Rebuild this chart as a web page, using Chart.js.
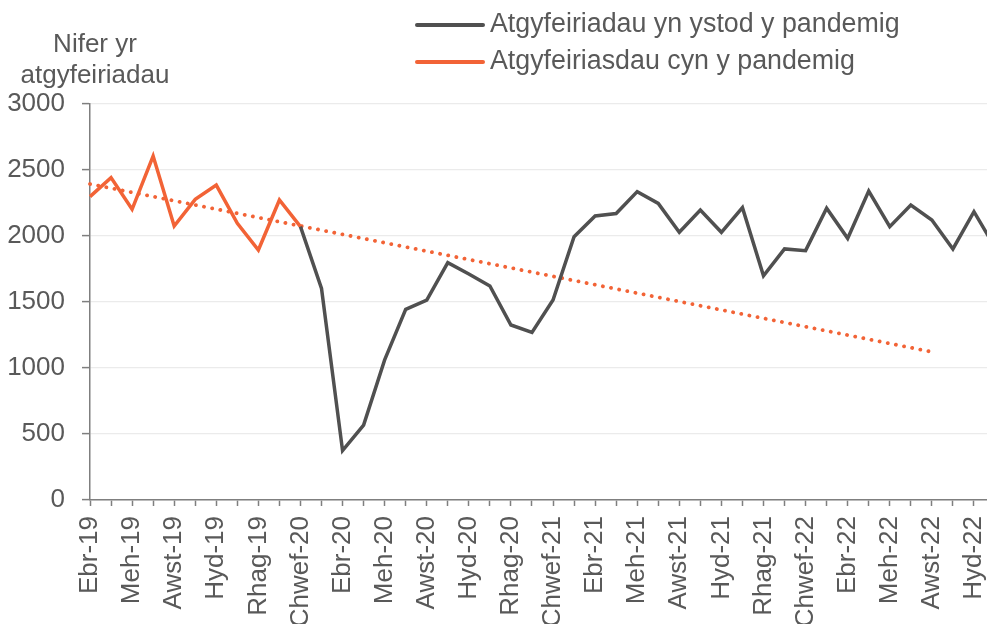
<!DOCTYPE html>
<html>
<head>
<meta charset="utf-8">
<script src="https://cdn.jsdelivr.net/npm/chart.js@4"></script>
<style>
  html, body { margin: 0; padding: 0; background: #fff; overflow: hidden; }
  #wrap { position: relative; width: 1010px; height: 624px; }
  .txt { font-family: "Liberation Sans", Arial, sans-serif; color: #595959; font-size: 26px; }
  #ytitle { position: absolute; left: 5px; width: 180px; top: 28px; text-align: center; line-height: 31px; }
  .leg { position: absolute; left: 415px; height: 30px; line-height: 30px; white-space: nowrap; font-size: 26.8px; }
  .leg span.sw { display: inline-block; width: 70px; height: 4px; vertical-align: middle; margin-right: 5px; border-radius: 2px; }
</style>
</head>
<body>
<div id="wrap">
  <canvas id="myChart" width="1010" height="624"></canvas>
  <div id="ytitle" class="txt">Nifer yr<br>atgyfeiriadau</div>
  <div class="leg txt" style="top:8px"><span class="sw" style="background:#505050"></span>Atgyfeiriadau yn ystod y pandemig</div>
  <div class="leg txt" style="top:45px"><span class="sw" style="background:#F26336"></span>Atgyfeiriasdau cyn y pandemig</div>
</div>
<script>
    // misoedd Ebr-19 .. Tach-22
    const months = [
      'Ebr-19','Mai-19','Meh-19','Gorff-19','Awst-19','Medi-19','Hyd-19','Tach-19','Rhag-19','Ion-20','Chwef-20','Maw-20',
      'Ebr-20','Mai-20','Meh-20','Gorff-20','Awst-20','Medi-20','Hyd-20','Tach-20','Rhag-20','Ion-21','Chwef-21','Maw-21',
      'Ebr-21','Mai-21','Meh-21','Gorff-21','Awst-21','Medi-21','Hyd-21','Tach-21','Rhag-21','Ion-22','Chwef-22','Maw-22',
      'Ebr-22','Mai-22','Meh-22','Gorff-22','Awst-22','Medi-22','Hyd-22','Tach-22'
    ];

    // yn ystod y pandemig (o Chwef-20)
    const during = [
      null, null, null, null, null, null, null, null, null, null,
      2071, 1603, 374, 568, 1061, 1444, 1515, 1798, 1712, 1621,
      1326, 1270, 1515, 1995, 2152, 2170, 2336, 2247, 2028, 2197,
      2028, 2215, 1699, 1902, 1889, 2210, 1982, 2341, 2071, 2235,
      2121, 1902, 2184, 1913
    ];

    // cyn y pandemig (Ebr-19 .. Chwef-20)
    const before = [2298, 2442, 2202, 2606, 2076, 2278, 2386, 2096, 1894, 2273, 2071];

    // llinell duedd: dau ben y llinell
    const trend = months.map(() => null);
    trend[0] = 2394;
    trend[40] = 1122;

    const yTicks = [0, 500, 1000, 1500, 2000, 2500, 3000];

    const FONT = '"Liberation Sans", Arial, sans-serif';
    const TEXT = '#595959';
    const AXIS = '#7f7f7f';

    const config = {
      type: 'line',
      data: {
        labels: months,
        datasets: [
          { label: 'Atgyfeiriadau yn ystod y pandemig', data: during, borderColor: '#505050', borderWidth: 3.5, pointRadius: 0, tension: 0, borderJoinStyle: 'miter' },
          { label: 'Atgyfeiriasdau cyn y pandemig', data: before, borderColor: '#F26336', borderWidth: 3.5, pointRadius: 0, tension: 0, borderJoinStyle: 'miter' },
          { label: 'Tuedd', data: trend, spanGaps: true, borderColor: '#F26336', borderWidth: 3.8, borderDash: [0.1, 8.2], borderCapStyle: 'round', pointRadius: 0 }
        ]
      },
      options: {
        responsive: false,
        animation: false,
        layout: { padding: { top: 104, right: 15, left: 0, bottom: 0 } },
        plugins: {
          legend: { display: false },
          tooltip: { enabled: false }
        },
        scales: {
          x: {
            offset: false,
            grid: { display: true, drawOnChartArea: false, drawTicks: true, tickLength: 6, tickColor: AXIS, tickWidth: 1.5 },
            border: { color: AXIS, width: 1.5 },
            ticks: {
              autoSkip: false, minRotation: 90, maxRotation: 90, padding: 10,
              color: TEXT, font: { family: FONT, size: 26 },
              callback: function (v, i) { return i % 2 === 0 ? this.getLabelForValue(v) : ''; }
            },
            afterFit: (s) => { s.height = 124; s.paddingLeft = 0; s.paddingRight = 0; }
          },
          y: {
            min: 0, max: 3000,
            afterBuildTicks: (s) => { s.ticks = yTicks.map(v => ({ value: v })); },
            grid: { color: '#ebebeb', lineWidth: 1.2, tickColor: AXIS, tickLength: 8, tickWidth: 1.5 },
            border: { color: AXIS, width: 1.5 },
            ticks: { padding: 17, color: TEXT, font: { family: FONT, size: 26 }, callback: (v) => String(v) },
            afterFit: (s) => { s.width = 90; }
          }
        }
      }
    };

    const myChart = new Chart(document.getElementById('myChart'), config);
</script>
</body>
</html>
